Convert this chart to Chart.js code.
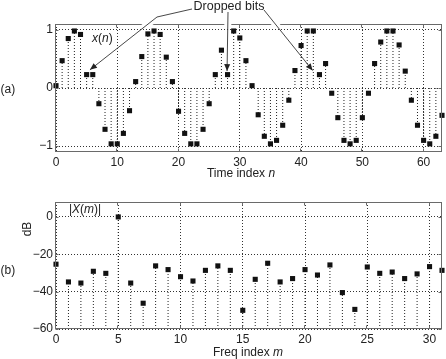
<!DOCTYPE html>
<html><head><meta charset="utf-8">
<script src="https://cdn.jsdelivr.net/npm/chart.js@4"></script>
<style>
html,body{margin:0;padding:0;background:#fff;}
#wrap{position:relative;width:446px;height:359px;overflow:hidden;}
#c1{position:absolute;left:0;top:0;}
#c2{position:absolute;left:0;top:190px;}
</style></head><body>
<div id="wrap"><canvas id="c1" width="446" height="190"></canvas><canvas id="c2" width="446" height="169"></canvas></div>
<script>
// ---- data ----
const timeIndex = [0,1,2,3,4,5,6,7,8,9,10,11,12,13,14,15,16,17,18,19,20,21,22,23,24,25,26,27,28,29,30,31,
                   32,33,34,35,36,37,38,39,40,41,42,43,44,45,46,47,48,49,50,51,52,53,54,55,56,57,58,59,60,61,62,63];
const xn = [0.04,0.47,0.85,0.98,0.92,0.23,0.23,-0.27,-0.71,-0.96,-0.96,-0.78,-0.39,0.11,0.54,0.93,
            0.98,0.92,0.53,0.11,-0.40,-0.78,-0.96,-0.96,-0.71,-0.27,0.23,0.65,0.23,0.98,0.86,0.47,
            0.04,-0.46,-0.83,-0.96,-0.90,-0.64,-0.21,0.30,0.73,0.98,0.98,0.23,0.42,-0.09,-0.51,-0.90,
            -0.96,-0.90,-0.51,-0.09,0.42,0.79,0.98,0.98,0.74,0.29,-0.21,-0.64,-0.90,-0.96,-0.83,-0.47];
const droppedBits = [5, 28, 43];
const freqIndex = [0,1,2,3,4,5,6,7,8,9,10,11,12,13,14,15,16,17,18,19,20,21,22,23,24,25,26,27,28,29,30,31];
const XmDb = [-25.3,-34.8,-35.4,-29.1,-30.2,0,-35.4,-46.2,-26.2,-28.2,-32.0,-34.3,-28.6,-26.2,-28.6,-50.0,
              -33.4,-24.8,-34.8,-33.0,-28.2,-31.1,-25.7,-40.5,-49.5,-26.8,-30.2,-29.5,-33.0,-30.5,-26.6,-28.6];
const timeTicks = [0,10,20,30,40,50,60];
const ampTicks = [-1,0,1];
const freqTicks = [0,5,10,15,20,25,30];
const dbTicks = [-60,-40,-20,0];

// ---- styling ----
const FONT = '"Liberation Sans", Arial, Helvetica, sans-serif';
const TXT = '#222';
const GRID = '#333';
const FRAME = '#6a6a6a';

function stemData(xs, ys, base) {
  const out = [];
  xs.forEach((x, i) => { out.push({x: x, y: base}, {x: x, y: ys[i]}, {x: x, y: null}); });
  return out;
}
function pointData(xs, ys) { return xs.map((x, i) => ({x: x, y: ys[i]})); }
const fmt = v => (v < 0 ? '\u2212' + Math.abs(v) : String(v));

function axis(min, max, ticks, size, isX) {
  return {
    type: 'linear', min: min, max: max,
    afterBuildTicks: s => { s.ticks = ticks.map(v => ({value: v})); },
    afterFit: s => { if (isX) s.height = size; else s.width = size; },
    grid: {color: GRID, lineWidth: 1, drawTicks: false},
    border: {display: false, dash: [1, 2]},
    ticks: {padding: isX ? 3 : 3, color: TXT, font: {family: FONT, size: 12}, maxRotation: 0, autoSkip: false, callback: fmt}
  };
}

function rich(ctx, parts, x, y, align) {
  let w = 0;
  parts.forEach(p => { ctx.font = (p.i ? 'italic ' : '') + '12px ' + FONT; w += ctx.measureText(p.t).width; });
  let cx = align === 'center' ? x - w / 2 : x;
  ctx.textAlign = 'left'; ctx.textBaseline = 'middle'; ctx.fillStyle = TXT;
  parts.forEach(p => { ctx.font = (p.i ? 'italic ' : '') + '12px ' + FONT; ctx.fillText(p.t, cx, y); cx += ctx.measureText(p.t).width; });
}

function frameAndTicks(chart) {
  const ctx = chart.ctx, a = chart.chartArea, sx = chart.scales.x, sy = chart.scales.y;
  const L = Math.round(a.left) - 0.5, R = Math.round(a.right) - 0.5, T = Math.round(a.top) + 0.5, B = Math.round(a.bottom) - 0.5;
  ctx.save();
  ctx.strokeStyle = FRAME; ctx.lineWidth = 1; ctx.setLineDash([]);
  ctx.strokeRect(L, T, R - L, B - T);
  ctx.beginPath();
  sx.ticks.forEach(t => { const px = Math.round(sx.getPixelForValue(t.value)) - 0.5; ctx.moveTo(px, B); ctx.lineTo(px, B - 3); ctx.moveTo(px, T); ctx.lineTo(px, T + 3); });
  sy.ticks.forEach(t => { const py = Math.round(sy.getPixelForValue(t.value)) + 0.5; ctx.moveTo(L, py); ctx.lineTo(L + 3, py); ctx.moveTo(R, py); ctx.lineTo(R - 3, py); });
  ctx.stroke();
  ctx.restore();
}

function arrowHead(ctx, x0, y0, x1, y1) {
  const ang = Math.atan2(y1 - y0, x1 - x0), len = 7, hw = 3;
  ctx.beginPath();
  ctx.moveTo(x1, y1);
  ctx.lineTo(x1 - len * Math.cos(ang) + hw * Math.sin(ang), y1 - len * Math.sin(ang) - hw * Math.cos(ang));
  ctx.lineTo(x1 - len * Math.cos(ang) - hw * Math.sin(ang), y1 - len * Math.sin(ang) + hw * Math.cos(ang));
  ctx.closePath(); ctx.fill();
}

const topPlugin = {
  id: 'topDecor',
  afterDraw(chart) {
    frameAndTicks(chart);
    const ctx = chart.ctx, sx = chart.scales.x, sy = chart.scales.y, a = chart.chartArea;
    ctx.save();
    ctx.font = '12px ' + FONT; ctx.fillStyle = TXT; ctx.textBaseline = 'middle'; ctx.textAlign = 'left';
    ctx.fillText('(a)', 0.5, 90);
    rich(ctx, [{t: 'Time index '}, {t: 'n', i: true}], 241, 174, 'center');
    rich(ctx, [{t: 'x', i: true}, {t: '('}, {t: 'n', i: true}, {t: ')'}], 92, 39, 'left');
    ctx.font = '12.5px ' + FONT; ctx.textAlign = 'center'; ctx.fillStyle = TXT;
    ctx.fillText('Dropped bits', 229, 7);
    // annotation arrows pointing at the dropped-bit samples
    const p = k => ({x: sx.getPixelForValue(timeIndex[k]), y: sy.getPixelForValue(xn[k])});
    const p1 = p(droppedBits[0]), p2 = p(droppedBits[1]), p3 = p(droppedBits[2]);
    const lines = [
      [[192, 9], [157, 17], [p1.x + 3.3, p1.y - 4.8]],
      [[228, 12], [p2.x - 0.5, p2.y - 3.5]],
      [[264, 10], [p3.x - 6.8, p3.y - 4.1]]
    ];
    // white gaps where the arrows cross the top frame
    ctx.save();
    ctx.beginPath(); ctx.rect(0, a.top - 3, 446, 6); ctx.clip();
    ctx.strokeStyle = '#fff'; ctx.lineWidth = 7;
    lines.forEach(l => { ctx.beginPath(); ctx.moveTo(l[0][0], l[0][1]); for (let i = 1; i < l.length; i++) ctx.lineTo(l[i][0], l[i][1]); ctx.stroke(); });
    ctx.restore();
    ctx.strokeStyle = '#333'; ctx.fillStyle = '#222'; ctx.lineWidth = 0.9; ctx.setLineDash([]);
    lines.forEach(l => {
      ctx.beginPath(); ctx.moveTo(l[0][0], l[0][1]);
      for (let i = 1; i < l.length; i++) ctx.lineTo(l[i][0], l[i][1]);
      ctx.stroke();
      const n = l.length;
      arrowHead(ctx, l[n - 2][0], l[n - 2][1], l[n - 1][0], l[n - 1][1]);
    });
    ctx.restore();
  }
};

const botPlugin = {
  id: 'botDecor',
  afterDraw(chart) {
    frameAndTicks(chart);
    const ctx = chart.ctx;
    ctx.save();
    ctx.font = '12px ' + FONT; ctx.fillStyle = TXT; ctx.textBaseline = 'middle'; ctx.textAlign = 'left';
    ctx.fillText('(b)', 0.5, 81);
    rich(ctx, [{t: 'Freq index '}, {t: 'm', i: true}], 248, 163, 'center');
    rich(ctx, [{t: '|'}, {t: 'X', i: true}, {t: '('}, {t: 'm', i: true}, {t: ')|'}], 69, 20, 'left');
    ctx.translate(28, 39); ctx.rotate(-Math.PI / 2);
    ctx.font = '12px ' + FONT; ctx.textAlign = 'center'; ctx.fillStyle = TXT;
    ctx.fillText('dB', 0, 0);
    ctx.restore();
  }
};

function makeChart(id, xs, ys, base, xr, xt, yr, yt, pad, xh, plugin) {
  return new Chart(document.getElementById(id), {
    type: 'scatter',
    data: {
      datasets: [
        {data: stemData(xs, ys, base), showLine: true, spanGaps: false, pointRadius: 0, borderColor: '#222', borderWidth: 1, borderDash: [1, 2], order: 2},
        {data: pointData(xs, ys), pointStyle: 'rect', pointRadius: 3.6, backgroundColor: '#111', borderWidth: 0, clip: false, order: 1}
      ]
    },
    options: {
      responsive: false, animation: false, devicePixelRatio: 1,
      events: [],
      layout: {padding: pad},
      plugins: {legend: {display: false}, tooltip: {enabled: false}, title: {display: false}},
      scales: {x: axis(xr[0], xr[1], xt, xh, true), y: axis(yr[0], yr[1], yt, 56, false)}
    },
    plugins: [plugin]
  });
}

makeChart('c1', timeIndex, xn, 0, [0, 63], timeTicks, [-1.1, 1.1], ampTicks, {left: 0, top: 24, right: 3, bottom: 0}, 38, topPlugin);
makeChart('c2', freqIndex, XmDb, -60, [0, 31], freqTicks, [-60, 8], dbTicks, {left: 0, top: 12, right: 3, bottom: 0}, 30, botPlugin);
</script>
</body></html>
